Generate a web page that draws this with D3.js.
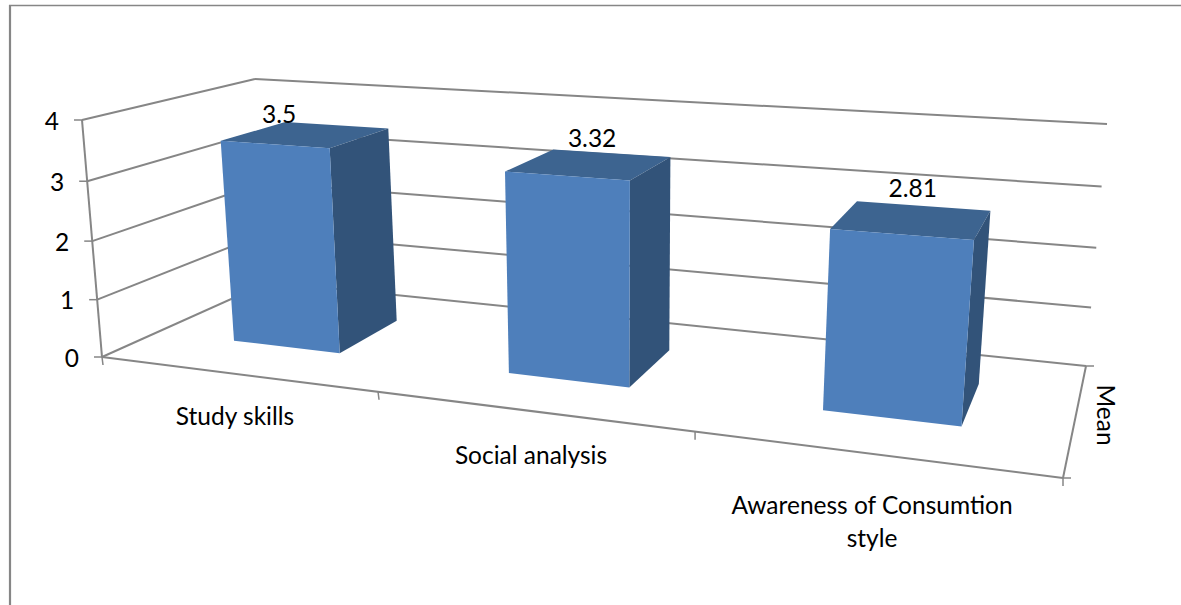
<!DOCTYPE html>
<html>
<head>
<meta charset="utf-8">
<script src="https://cdn.jsdelivr.net/npm/d3@7/dist/d3.min.js"></script>
<style>
html,body{margin:0;padding:0;background:#fff;}
svg{display:block;}
text{font-family:Lato,"Noto Sans",sans-serif;fill:#000;}
</style>
</head>
<body>
<svg id="chart" width="1181" height="605"></svg>
<script>
// ---- data ----
const categories = ["Study skills", "Social analysis", "Awareness of Consumtion style"];
const means = [3.5, 3.32, 2.81];
const valueTicks = [0, 1, 2, 3, 4];
const seriesName = "Mean";

// ---- 3D box seen on screen: floor and ceiling quads (front-left, front-right, back-right, back-left) ----
const floorQuad = [[102,357],[1063,478],[1086,366],[269,282]];
const topQuad   = [[82,120],[1089,186.2],[1107,124],[255,79]];
const heightPerspective = 1.045;

function homography(q){
  const [p00,p10,p11,p01]=q;
  const det=(a,b)=>a[0]*b[1]-a[1]*b[0];
  const d1=[p10[0]-p11[0],p10[1]-p11[1]], d2=[p01[0]-p11[0],p01[1]-p11[1]];
  const s=[p00[0]-p10[0]+p11[0]-p01[0],p00[1]-p10[1]+p11[1]-p01[1]];
  const D=det(d1,d2), g=det(s,d2)/D, h=det(d1,s)/D;
  const A=[p10[0]-p00[0]+g*p10[0],p10[1]-p00[1]+g*p10[1]];
  const B=[p01[0]-p00[0]+h*p01[0],p01[1]-p00[1]+h*p01[1]];
  return (u,d)=>{const w=1+g*u+h*d;
    return [(p00[0]+A[0]*u+B[0]*d)/w,(p00[1]+A[1]*u+B[1]*d)/w];};
}
const H0=homography(floorQuad), H1=homography(topQuad);

// ---- scales ----
const xBand=d3.scaleBand().domain(categories).range([0,1]).paddingInner(0.6).paddingOuter(0.3);
const yScale=d3.scaleLinear().domain([0,4]).range([0,1]);
const depthScale=d3.scaleLinear().domain([0,1]).range([0.3,0.7]); // bar depth inside the box

function P(u,d,val){
  const a=H0(u,d), b=H1(u,d), h=yScale(val);
  const t=h/(h+heightPerspective*(1-h));
  return [a[0]+(b[0]-a[0])*t, a[1]+(b[1]-a[1])*t];
}
const poly=pts=>pts.map(p=>p.map(n=>n.toFixed(1)).join(",")).join(" ");

const svg=d3.select("#chart");
const GRID="#868686";
const FONT=24.5;
const line=(g,a,b,w=2)=>g.append("line").attr("x1",a[0]).attr("y1",a[1]).attr("x2",b[0]).attr("y2",b[1])
  .attr("stroke",GRID).attr("stroke-width",w);

// outer frame (top and left only)
const frame=svg.append("g");
line(frame,[9,5.5],[1181,5.5],1.5);
line(frame,[10,5],[10,605],2.2);

// walls
const walls=svg.append("g");
valueTicks.forEach(v=>{
  line(walls,P(0,0,v),P(0,1,v));
  line(walls,P(0,1,v),P(1,1,v));
});

// axes
const axes=svg.append("g");
line(axes,P(0,0,0),P(0,0,4));
line(axes,P(0,0,0),P(1,0,0));
line(axes,P(1,0,0),P(1,1,0));
valueTicks.forEach(v=>{
  const p=P(0,0,v);
  line(axes,[p[0]-8,p[1]],p,1.5);
  axes.append("text").attr("x",p[0]-23).attr("y",p[1]+3.5).attr("text-anchor","end")
    .attr("dominant-baseline","middle").attr("font-size",FONT).text(v);
});
[0,1/3,2/3,1].forEach(u=>{
  const p=P(u,0,0);
  line(axes,p,[p[0]+(u<0.5?1:0),p[1]+8],1.5);
});
[0,1].forEach(d=>{
  const p=P(1,d,0);
  line(axes,p,[p[0]+8,p[1]],1.5);
});

// bars
const d0=depthScale(0), d1=depthScale(1);
const bars=svg.append("g").selectAll("g").data(categories).join("g");
bars.each(function(c,i){
  const g=d3.select(this), v=means[i];
  const u0=xBand(c), u1=u0+xBand.bandwidth();
  g.append("polygon").attr("fill","#3D6490")
    .attr("points",poly([P(u0,d0,v),P(u1,d0,v),P(u1,d1,v),P(u0,d1,v)]));
  g.append("polygon").attr("fill","#325379")
    .attr("points",poly([P(u1,d0,0),P(u1,d1,0),P(u1,d1,v),P(u1,d0,v)]));
  g.append("polygon").attr("fill","#4E7FBB")
    .attr("points",poly([P(u0,d0,0),P(u1,d0,0),P(u1,d0,v),P(u0,d0,v)]));
});

const labelNudge=[[-57,-8],[-19,-12],[-10,-15]];
svg.append("g").selectAll("text").data(categories).join("text")
  .attr("x",(c,i)=>P(xBand(c)+xBand.bandwidth()/2,d1,means[i])[0]+labelNudge[i][0])
  .attr("y",(c,i)=>P(xBand(c)+xBand.bandwidth()/2,d1,means[i])[1]+labelNudge[i][1])
  .attr("text-anchor","middle").attr("dominant-baseline","middle").attr("font-size",FONT)
  .text((c,i)=>means[i]);

// category labels
const catLabelPos=[[235,419],[531,458],[872,508]];
const wrapped=[["Study skills"],["Social analysis"],["Awareness of Consumtion","style"]];
categories.forEach((c,i)=>{
  wrapped[i].forEach((t,j)=>{
    svg.append("text").attr("x",catLabelPos[i][0]).attr("y",catLabelPos[i][1]+j*33)
      .attr("text-anchor","middle").attr("dominant-baseline","middle").attr("font-size",FONT).text(t);
  });
});

// series label
svg.append("text").attr("transform","translate(1103,415) rotate(90)")
  .attr("text-anchor","middle").attr("dominant-baseline","middle").attr("font-size",FONT).text(seriesName);
</script>
</body>
</html>
